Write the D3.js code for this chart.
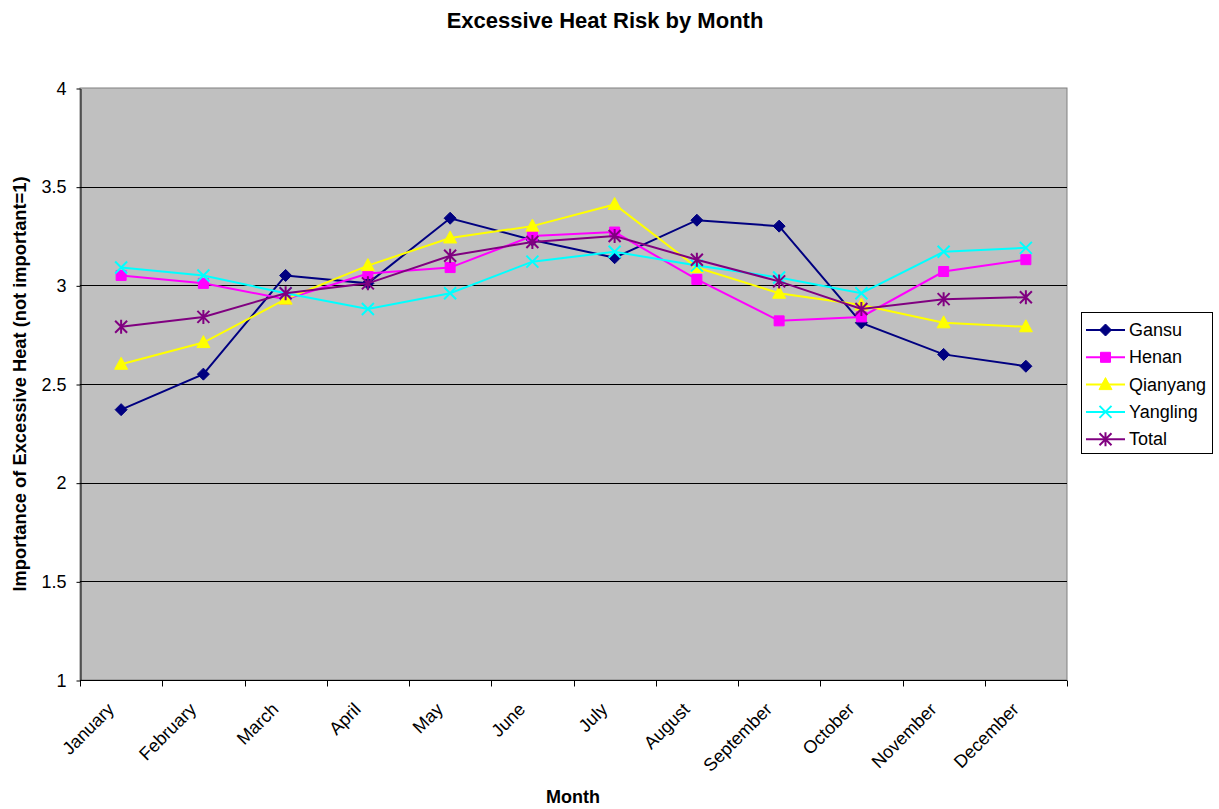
<!DOCTYPE html>
<html>
<head>
<meta charset="utf-8">
<script src="https://cdn.jsdelivr.net/npm/d3@7"></script>
<style>
  html, body { margin: 0; padding: 0; background: #fff; }
  svg { display: block; font-family: Arial, "Liberation Sans", sans-serif; }
</style>
</head>
<body>
<svg id="chart" width="1219" height="809"></svg>
<script>
// Monthly importance of excessive heat (not important = 1) by site
const months = ["January", "February", "March", "April", "May", "June",
                "July", "August", "September", "October", "November", "December"];
const gansu    = [2.37, 2.55, 3.05, 3.01, 3.34, 3.23, 3.14, 3.33, 3.30, 2.81, 2.65, 2.59];
const henan    = [3.05, 3.01, 2.93, 3.06, 3.09, 3.25, 3.27, 3.03, 2.82, 2.84, 3.07, 3.13];
const qianyang = [2.60, 2.71, 2.93, 3.10, 3.24, 3.30, 3.41, 3.09, 2.96, 2.90, 2.81, 2.79];
const yangling = [3.09, 3.05, 2.96, 2.88, 2.96, 3.12, 3.17, 3.10, 3.04, 2.96, 3.17, 3.19];
const total    = [2.79, 2.84, 2.96, 3.01, 3.15, 3.22, 3.25, 3.13, 3.02, 2.88, 2.93, 2.94];
const yTicks   = [1, 1.5, 2, 2.5, 3, 3.5, 4];

const seriesNames  = ["Gansu", "Henan", "Qianyang", "Yangling", "Total"];
const seriesValues = [gansu, henan, qianyang, yangling, total];
const seriesColors = ["#000080", "#FF00FF", "#FFFF00", "#00FFFF", "#800080"];
const seriesShapes = ["diamond", "square", "triangle", "cross", "star"];

const svg = d3.select("#chart");
const plot = { left: 80, right: 1067, top: 88, bottom: 680 };

const x = d3.scaleBand().domain(months).range([plot.left, plot.right]).padding(0);
const y = d3.scaleLinear().domain([1, 4]).range([plot.bottom, plot.top]);

// Plot area background
svg.append("rect")
  .attr("x", plot.left).attr("y", plot.top)
  .attr("width", plot.right - plot.left).attr("height", plot.bottom - plot.top)
  .attr("fill", "#C0C0C0").attr("stroke", "#808080").attr("stroke-width", 1);

// Horizontal gridlines
svg.append("g").selectAll("line")
  .data(yTicks.filter(t => t > 1 && t < 4))
  .join("line")
  .attr("x1", plot.left).attr("x2", plot.right)
  .attr("y1", d => Math.round(y(d)) + 0.5).attr("y2", d => Math.round(y(d)) + 0.5)
  .attr("stroke", "#000").attr("stroke-width", 1);

// Y axis
const yAxis = svg.append("g")
  .attr("transform", `translate(${plot.left + 0.5},0.5)`)
  .call(d3.axisLeft(y).tickValues(yTicks).tickFormat(d3.format(""))
    .tickSize(4).tickSizeOuter(0).tickPadding(10));
yAxis.select(".domain").attr("stroke", "#000");
yAxis.selectAll("text").attr("font-size", 18).attr("fill", "#000")
  .attr("font-family", "Arial, 'Liberation Sans', sans-serif");

// X axis: ticks at category boundaries
const xg = svg.append("g").attr("transform", `translate(0,${plot.bottom + 0.5})`);
xg.append("line").attr("x1", plot.left).attr("x2", plot.right).attr("stroke", "#000");
const bounds = months.map(m => x(m)).concat([plot.right]);
xg.selectAll("line.tick").data(bounds).join("line")
  .attr("class", "tick")
  .attr("x1", d => Math.round(d) + 0.5).attr("x2", d => Math.round(d) + 0.5)
  .attr("y1", 0).attr("y2", 6).attr("stroke", "#000");
xg.selectAll("text").data(months).join("text")
  .attr("transform", d => `translate(${x(d) + x.bandwidth() / 2 - 6},${30}) rotate(-45)`)
  .attr("text-anchor", "end")
  .attr("font-size", 18)
  .attr("fill", "#000")
  .text(d => d);

// Marker path generator
function markerPath(shape) {
  switch (shape) {
    case "diamond": return "M0,-6L6,0L0,6L-6,0Z";
    case "square": return "M-5,-5H5V5H-5Z";
    case "triangle": return "M0,-7L6.5,5H-6.5Z";
    case "cross": return "M-6,-6L6,6M-6,6L6,-6";
    case "star": return "M-6,-6L6,6M-6,6L6,-6M0,-7V7";
  }
}

const line = d3.line()
  .x((d, i) => x(months[i]) + x.bandwidth() / 2)
  .y(d => y(d));

seriesValues.forEach((vals, si) => {
  const color = seriesColors[si];
  const shape = seriesShapes[si];
  const g = svg.append("g");
  g.append("path").datum(vals)
    .attr("d", line)
    .attr("fill", "none")
    .attr("stroke", color)
    .attr("stroke-width", 2);
  const open = shape === "cross" || shape === "star";
  g.selectAll("path.m").data(vals).join("path")
    .attr("class", "m")
    .attr("transform", (d, i) => `translate(${x(months[i]) + x.bandwidth() / 2},${y(d)})`)
    .attr("d", markerPath(shape))
    .attr("fill", open ? "none" : color)
    .attr("stroke", color)
    .attr("stroke-width", open ? 2 : 1);
});

// Title and axis titles
svg.append("text")
  .attr("x", 605).attr("y", 28)
  .attr("text-anchor", "middle")
  .attr("font-size", 22).attr("font-weight", "bold")
  .text("Excessive Heat Risk by Month");

svg.append("text")
  .attr("transform", `translate(26,384) rotate(-90)`)
  .attr("text-anchor", "middle")
  .attr("font-size", 18.3).attr("font-weight", "bold")
  .text("Importance of Excessive Heat (not important=1)");

svg.append("text")
  .attr("x", 573).attr("y", 803)
  .attr("text-anchor", "middle")
  .attr("font-size", 18).attr("font-weight", "bold")
  .text("Month");

// Legend
const legend = svg.append("g");
legend.append("rect")
  .attr("x", 1081.5).attr("y", 312.5).attr("width", 131).attr("height", 141)
  .attr("fill", "#fff").attr("stroke", "#000").attr("stroke-width", 1);
seriesNames.forEach((name, i) => {
  const cy = 330 + i * 27.3;
  const open = seriesShapes[i] === "cross" || seriesShapes[i] === "star";
  legend.append("line")
    .attr("x1", 1086).attr("x2", 1125).attr("y1", cy).attr("y2", cy)
    .attr("stroke", seriesColors[i]).attr("stroke-width", 2);
  legend.append("path")
    .attr("transform", `translate(1105.5,${cy})`)
    .attr("d", markerPath(seriesShapes[i]))
    .attr("fill", open ? "none" : seriesColors[i])
    .attr("stroke", seriesColors[i])
    .attr("stroke-width", open ? 2 : 1);
  legend.append("text")
    .attr("x", 1129).attr("y", cy + 6)
    .attr("font-size", 18)
    .text(name);
});
</script>
</body>
</html>
